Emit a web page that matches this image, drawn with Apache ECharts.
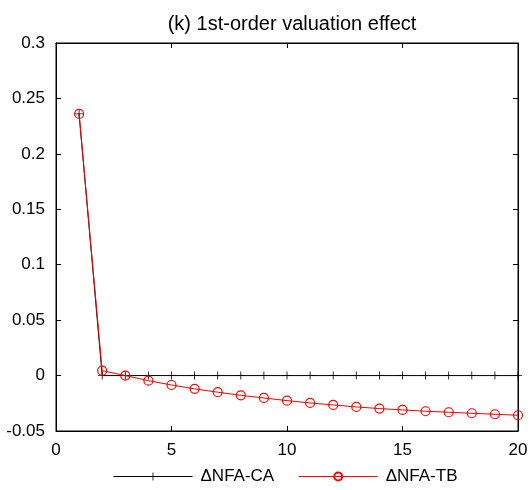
<!DOCTYPE html>
<html><head><meta charset="utf-8">
<script src="https://cdn.jsdelivr.net/npm/echarts@6/dist/echarts.min.js"></script>
<style>html,body{margin:0;padding:0;background:#fff}#c{width:531px;height:490px}</style>
</head><body><div id="c"></div>
<script>
const titleText = '(k) 1st-order valuation effect';
const periods = [1,2,3,4,5,6,7,8,9,10,11,12,13,14,15,16,17,18,19,20];
const nfaCA = [0.236,0,0,0,0,0,0,0,0,0,0,0,0,0,0,0,0,0,0,0];
const nfaTB = [0.236,0.0044,0.0,-0.0046,-0.0085,-0.012,-0.015,-0.0178,-0.0202,-0.0226,-0.0247,-0.0265,-0.0283,-0.0298,-0.031,-0.0322,-0.0331,-0.034,-0.0349,-0.0358];
const seriesNames = ['\u0394NFA-CA','\u0394NFA-TB'];

const font = 'Liberation Sans, Arial, sans-serif';
const chart = echarts.init(document.getElementById('c'), null, {renderer:'canvas'});
const fmtY = v => { const r = Math.round(v*100)/100; return String(r); };
const plus = 'path://M4.5,0 h1 v4.5 h4.5 v1 h-4.5 v4.5 h-1 v-4.5 h-4.5 v-1 h4.5 z';
const tickStyle = {inside:true,length:5,lineStyle:{color:'#000',width:1}};
chart.setOption({
  animation:false,
  backgroundColor:'#fff',
  title:{text:titleText,left:287,textAlign:'center',top:9,textStyle:{fontFamily:font,fontSize:20,fontWeight:'normal',color:'#000'}},
  grid:{left:56,right:13,top:43,bottom:59,show:true,borderColor:'#000',borderWidth:1,backgroundColor:'#fff'},
  legend:{left:113,top:468,padding:0,itemWidth:79,itemHeight:10,itemGap:24,
    lineStyle:{width:1},
    textStyle:{fontFamily:font,fontSize:17,color:'#000',padding:[0,0,0,3]},
    data:[{name:seriesNames[0]},{name:seriesNames[1]}]},
  xAxis:[{type:'value',min:0,max:20,interval:5,position:'bottom',
    axisLine:{onZero:false,lineStyle:{color:'#000',width:1}},
    axisTick:tickStyle,
    axisLabel:{fontFamily:font,fontSize:17,color:'#000',margin:11},
    splitLine:{show:false}},
   {type:'value',min:0,max:20,interval:5,position:'top',
    axisLine:{onZero:false,lineStyle:{color:'#000'}},
    axisTick:tickStyle,
    axisLabel:{show:false},splitLine:{show:false}}],
  yAxis:[{type:'value',min:-0.05,max:0.3,interval:0.05,position:'left',
    axisLine:{show:true,onZero:false,lineStyle:{color:'#000'}},
    axisTick:Object.assign({show:true},tickStyle),
    axisLabel:{fontFamily:font,fontSize:17,color:'#000',margin:11,formatter:fmtY},
    splitLine:{show:false}},
   {type:'value',min:-0.05,max:0.3,interval:0.05,position:'right',
    axisLine:{show:true,onZero:false,lineStyle:{color:'#000'}},
    axisTick:Object.assign({show:true},tickStyle),
    axisLabel:{show:false},splitLine:{show:false}}],
  series:[
    {name:seriesNames[0],type:'line',xAxisIndex:0,yAxisIndex:0,
     data:periods.map((p,i)=>[p,nfaCA[i]]),
     symbol:plus,symbolSize:8,showSymbol:true,
     lineStyle:{color:'#000',width:1},itemStyle:{color:'#000'},z:2},
    {name:seriesNames[1],type:'line',xAxisIndex:0,yAxisIndex:0,
     data:periods.map((p,i)=>[p,nfaTB[i]]),
     symbol:'circle',symbolSize:9,showSymbol:true,
     lineStyle:{color:'#ff0000',width:1},
     itemStyle:{color:'rgba(255,255,255,0)',borderColor:'#ff0000',borderWidth:1.2},z:3}
  ]
});
</script></body></html>
